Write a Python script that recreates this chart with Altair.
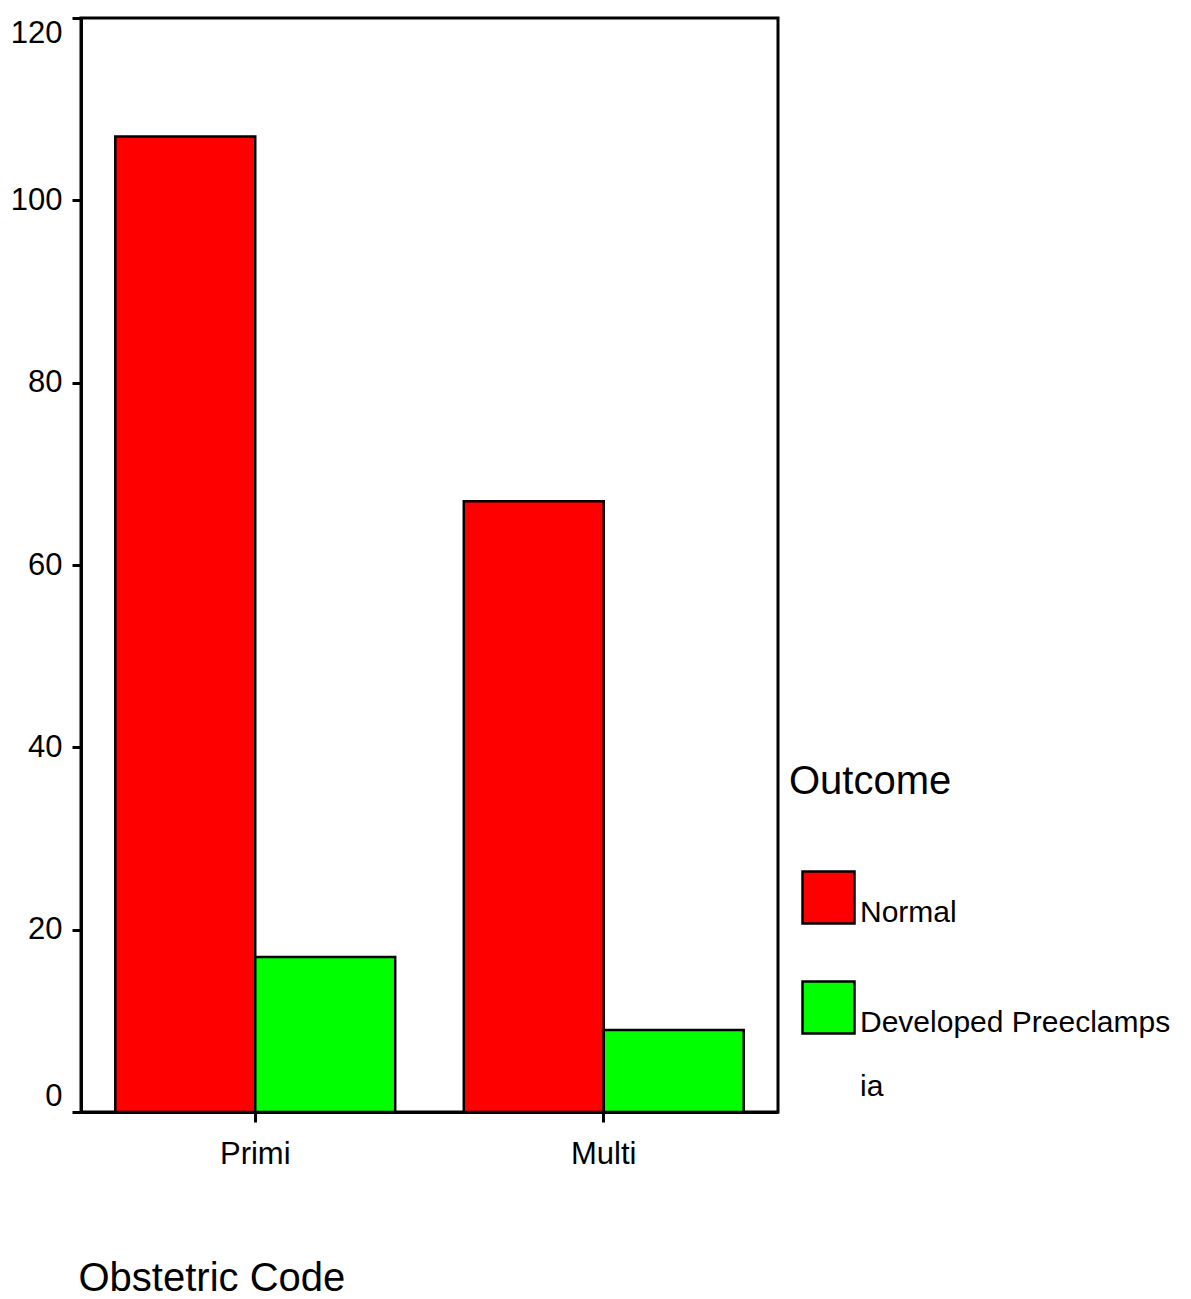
import altair as alt
import pandas as pd

categories = ["Primi", "Multi"]
outcomes = ["Normal", "Developed Preeclampsia"]
normal_counts = [107, 67]
preeclampsia_counts = [17, 9]
y_ticks = [0, 20, 40, 60, 80, 100, 120]
colors = ["#ff0000", "#00ff00"]

rows = []
for i, c in enumerate(categories):
    rows.append({"code": c, "outcome": outcomes[0], "count": normal_counts[i]})
    rows.append({"code": c, "outcome": outcomes[1], "count": preeclampsia_counts[i]})
df = pd.DataFrame(rows)

FONT = "Liberation Sans, Arial, sans-serif"
BLANK = "\u200b"

chart = alt.Chart(df).mark_bar(stroke="black", strokeWidth=2.5).encode(
    x=alt.X(
        "code:N",
        sort=categories,
        scale=alt.Scale(paddingInner=0, paddingOuter=0),
        axis=alt.Axis(
            title="Obstetric Code",
            labelAngle=0,
            tickSize=10,
            labelPadding=17,
            titleAnchor="start",
            titleAlign="left",
            titleBaseline="alphabetic",
            titleX=-3,
            titleY=178,
            titleFontSize=40,
        ),
    ),
    xOffset=alt.XOffset(
        "outcome:N",
        sort=outcomes,
        scale=alt.Scale(paddingInner=0, paddingOuter=0.245),
    ),
    y=alt.Y(
        "count:Q",
        scale=alt.Scale(domain=[0, 120], nice=False),
        axis=alt.Axis(
            title=None,
            values=y_ticks,
            tickSize=9,
            labelPadding=10,
            labelFlush=True,
            grid=False,
        ),
    ),
    color=alt.Color(
        "outcome:N",
        sort=outcomes,
        scale=alt.Scale(domain=outcomes, range=colors),
        legend=alt.Legend(
            title="Outcome",
            orient="none",
            legendX=708,
            legendY=744,
            titleFontSize=40,
            titleFontWeight="normal",
            titleFont=FONT,
            titleColor="black",
            titleLimit=600,
            titlePadding=68,
            symbolType="square",
            symbolSize=2704,
            symbolStrokeColor="black",
            symbolStrokeWidth=2.5,
            symbolOpacity=1,
            symbolOffset=12,
            labelOffset=4,
            labelFontSize=30,
            labelFont=FONT,
            labelColor="black",
            labelBaseline="top",
            labelLimit=600,
            rowPadding=47,
            labelExpr="datum.label == 'Developed Preeclampsia' ? ['Developed Preeclamps', '" + BLANK + "', 'ia'] : datum.label",
        ),
    ),
).properties(
    width=697,
    height=1094,
    autosize=alt.AutoSizeParams(type="none"),
    padding={"left": 73, "top": 10, "right": 405, "bottom": 188},
).configure_view(
    stroke="black", strokeWidth=3
).configure_axis(
    domainColor="black",
    domainWidth=3,
    tickColor="black",
    tickWidth=3,
    labelFont=FONT,
    labelFontSize=31,
    labelColor="black",
    titleFont=FONT,
    titleFontWeight="normal",
    titleColor="black",
)

chart.save("out.html", embed_options={"renderer": "svg", "actions": False})
